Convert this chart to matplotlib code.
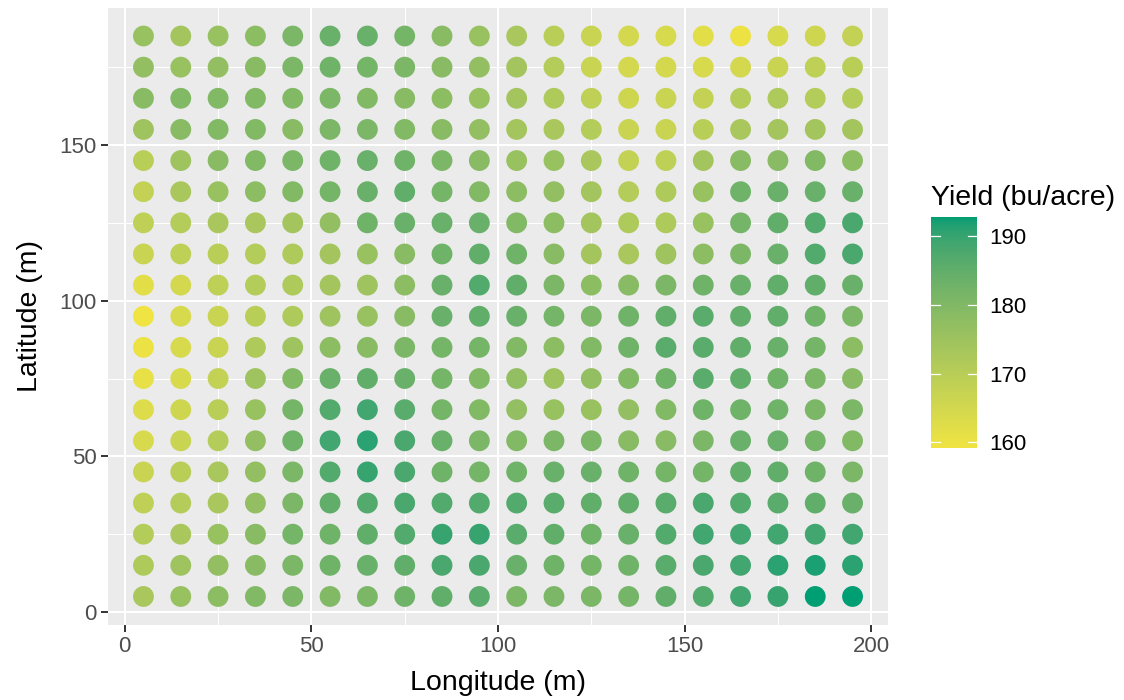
import numpy as np
import matplotlib
matplotlib.use('Agg')
import matplotlib.pyplot as plt
from matplotlib.colors import ListedColormap, Normalize

plt.rcParams['font.family'] = ['Liberation Sans', 'DejaVu Sans']

# grid coordinates (m)
lon = [5, 15, 25, 35, 45, 55, 65, 75, 85, 95,
       105, 115, 125, 135, 145, 155, 165, 175, 185, 195]
lat = [185, 175, 165, 155, 145, 135, 125, 115, 105, 95,
       85, 75, 65, 55, 45, 35, 25, 15, 5]

# yield (bu/acre), one row per latitude (top to bottom), west half | east half
yield_west = [
    [176, 174, 176, 178, 181, 184, 184, 182, 179, 176],
    [177, 176, 177, 179, 181, 183, 182, 181, 179, 177],
    [179, 180, 180, 180, 180, 181, 180, 179, 178, 176],
    [175, 179, 180, 180, 179, 181, 181, 180, 179, 177],
    [170, 175, 179, 180, 181, 183, 184, 183, 181, 179],
    [168, 173, 176, 178, 180, 182, 184, 185, 182, 180],
    [169, 171, 173, 173, 174, 177, 183, 184, 184, 184],
    [167, 169, 170, 171, 172, 174, 176, 179, 183, 185],
    [162, 165, 169, 171, 172, 174, 175, 178, 184, 187],
    [159.2, 164, 167, 170, 172, 175, 176, 179, 184, 185],
    [160, 164, 167, 172, 175, 178, 179, 181, 182, 182],
    [161, 164, 168, 175, 180, 184, 185, 184, 182, 180],
    [163, 166, 170, 176, 182, 187, 189, 186, 182, 180],
    [164, 167, 171, 177, 183, 189, 191, 188, 184, 181],
    [167, 170, 173, 177, 181, 187, 190, 188, 183, 182],
    [169, 171, 173, 177, 181, 185, 187, 188, 187, 187],
    [171, 173, 176, 179, 182, 183, 185, 187, 190, 190],
    [172, 175, 177, 179, 181, 183, 184, 185, 188, 188],
    [173, 176, 178, 180, 181, 180, 181, 183, 185, 186],
]
yield_east = [
    [173, 170, 167, 165, 164, 162, 160, 164, 166, 168],
    [174, 171, 167, 165, 165, 164, 165, 167, 169, 170],
    [174, 172, 169, 166, 167, 168, 171, 172, 171, 171],
    [174, 173, 171, 167, 167, 170, 173, 174, 174, 174],
    [176, 176, 173, 168, 169, 174, 179, 179, 180, 178],
    [178, 177, 174, 171, 172, 176, 183, 184, 184, 184],
    [180, 178, 174, 172, 172, 176, 182, 185, 187, 188],
    [183, 179, 174, 173, 175, 178, 181, 184, 187, 188],
    [185, 181, 178, 179, 181, 183, 184, 185, 185, 184],
    [184, 182, 181, 183, 185, 186, 185, 185, 183, 181],
    [180, 178, 180, 183, 186, 186, 185, 184, 182, 178],
    [177, 175, 177, 180, 183, 186, 185, 183, 181, 179],
    [177, 176, 176, 177, 180, 183, 183, 183, 181, 181],
    [180, 181, 181, 179, 179, 181, 184, 184, 182, 180],
    [183, 184, 184, 183, 182, 182, 185, 185, 183, 181],
    [187, 186, 185, 185, 186, 188, 187, 186, 185, 184],
    [186, 185, 183, 184, 187, 189, 189, 189, 189, 189],
    [184, 183, 182, 183, 186, 188, 189, 191, 192, 191],
    [181, 181, 181, 182, 185, 187, 189, 190, 192.8, 192.8],
]

low_col = '#F0E442'
high_col = '#009E73'


# ---- Lab interpolated gradient (like ggplot's scale_colour_gradient) ----
def hex_rgb(h):
    h = h.lstrip('#')
    return np.array([int(h[i:i + 2], 16) / 255 for i in (0, 2, 4)])


def rgb_to_lab(c):
    c = np.where(c > 0.04045, ((c + 0.055) / 1.055) ** 2.4, c / 12.92)
    M = np.array([[0.4124, 0.3576, 0.1805],
                  [0.2126, 0.7152, 0.0722],
                  [0.0193, 0.1192, 0.9505]])
    xyz = M @ c / np.array([0.95047, 1.0, 1.08883])
    f = np.where(xyz > 0.008856, np.cbrt(xyz), 7.787 * xyz + 16 / 116)
    return np.array([116 * f[1] - 16, 500 * (f[0] - f[1]), 200 * (f[1] - f[2])])


def lab_to_rgb(lab):
    fy = (lab[0] + 16) / 116
    fx = fy + lab[1] / 500
    fz = fy - lab[2] / 200
    f = np.array([fx, fy, fz])
    xyz = np.where(f ** 3 > 0.008856, f ** 3, (f - 16 / 116) / 7.787)
    xyz = xyz * np.array([0.95047, 1.0, 1.08883])
    Minv = np.array([[3.2406, -1.5372, -0.4986],
                     [-0.9689, 1.8758, 0.0415],
                     [0.0557, -0.2040, 1.0570]])
    c = Minv @ xyz
    c = np.where(c > 0.0031308, 1.055 * np.abs(c) ** (1 / 2.4) - 0.055, 12.92 * c)
    return np.clip(c, 0, 1)


lab_lo = rgb_to_lab(hex_rgb(low_col))
lab_hi = rgb_to_lab(hex_rgb(high_col))
cols = [lab_to_rgb(lab_lo + t * (lab_hi - lab_lo)) for t in np.linspace(0, 1, 256)]
cmap = ListedColormap(cols)

vals = np.array([w + e for w, e in zip(yield_west, yield_east)])
LON, LAT = np.meshgrid(lon, lat)
norm = Normalize(vmin=vals.min(), vmax=vals.max())

fig = plt.figure(figsize=(11.24, 7.0), dpi=100)
ax = fig.add_axes([108 / 1124, 1 - 624.5 / 700, 780 / 1124, 616.5 / 700])
ax.set_facecolor('#EBEBEB')
ax.scatter(LON.ravel(), LAT.ravel(), c=vals.ravel(), cmap=cmap, norm=norm,
           s=225, linewidths=0, zorder=3)

ax.set_xlim(-4.5, 204.5)
ax.set_ylim(-4, 194)
ax.set_xticks([0, 50, 100, 150, 200])
ax.set_yticks([0, 50, 100, 150])
ax.set_xticks([25, 75, 125, 175], minor=True)
ax.set_yticks([25, 75, 125, 175], minor=True)
ax.grid(which='major', color='white', linewidth=1.45, zorder=0)
ax.grid(which='minor', color='white', linewidth=0.75, zorder=0)
ax.set_axisbelow(True)
for sp in ax.spines.values():
    sp.set_visible(False)
ax.tick_params(which='major', length=5, width=1.4, color='#333333',
               labelcolor='#4D4D4D', labelsize=16, pad=3)
ax.tick_params(which='minor', length=0)
ax.set_xlabel('Longitude (m)', fontsize=20.5, color='black', labelpad=10)
ax.set_ylabel('Latitude (m)', fontsize=20.5, color='black', labelpad=12)

# colour bar legend
cax = fig.add_axes([931 / 1124, 1 - 448 / 700, 46 / 1124, 231 / 700])
grad = np.linspace(vals.min(), vals.max(), 256).reshape(-1, 1)
cax.imshow(grad, cmap=cmap, norm=norm, origin='lower', aspect='auto',
           extent=[0, 1, vals.min(), vals.max()])
cax.set_xticks([])
cax.set_yticks([160, 170, 180, 190])
cax.yaxis.tick_right()
cax.tick_params(axis='y', length=0, labelsize=16, labelcolor='black', pad=9)
for t in [160, 170, 180, 190]:
    cax.plot([0, 0.2], [t, t], color='white', lw=0.9)
    cax.plot([0.8, 1], [t, t], color='white', lw=0.9)
cax.set_xlim(0, 1)
cax.set_ylim(vals.min(), vals.max())
for sp in cax.spines.values():
    sp.set_visible(False)
fig.text(931 / 1124, 1 - 198 / 700, 'Yield (bu/acre)', fontsize=20.5,
         va='center', ha='left')

fig.savefig('out.png', dpi=100)
